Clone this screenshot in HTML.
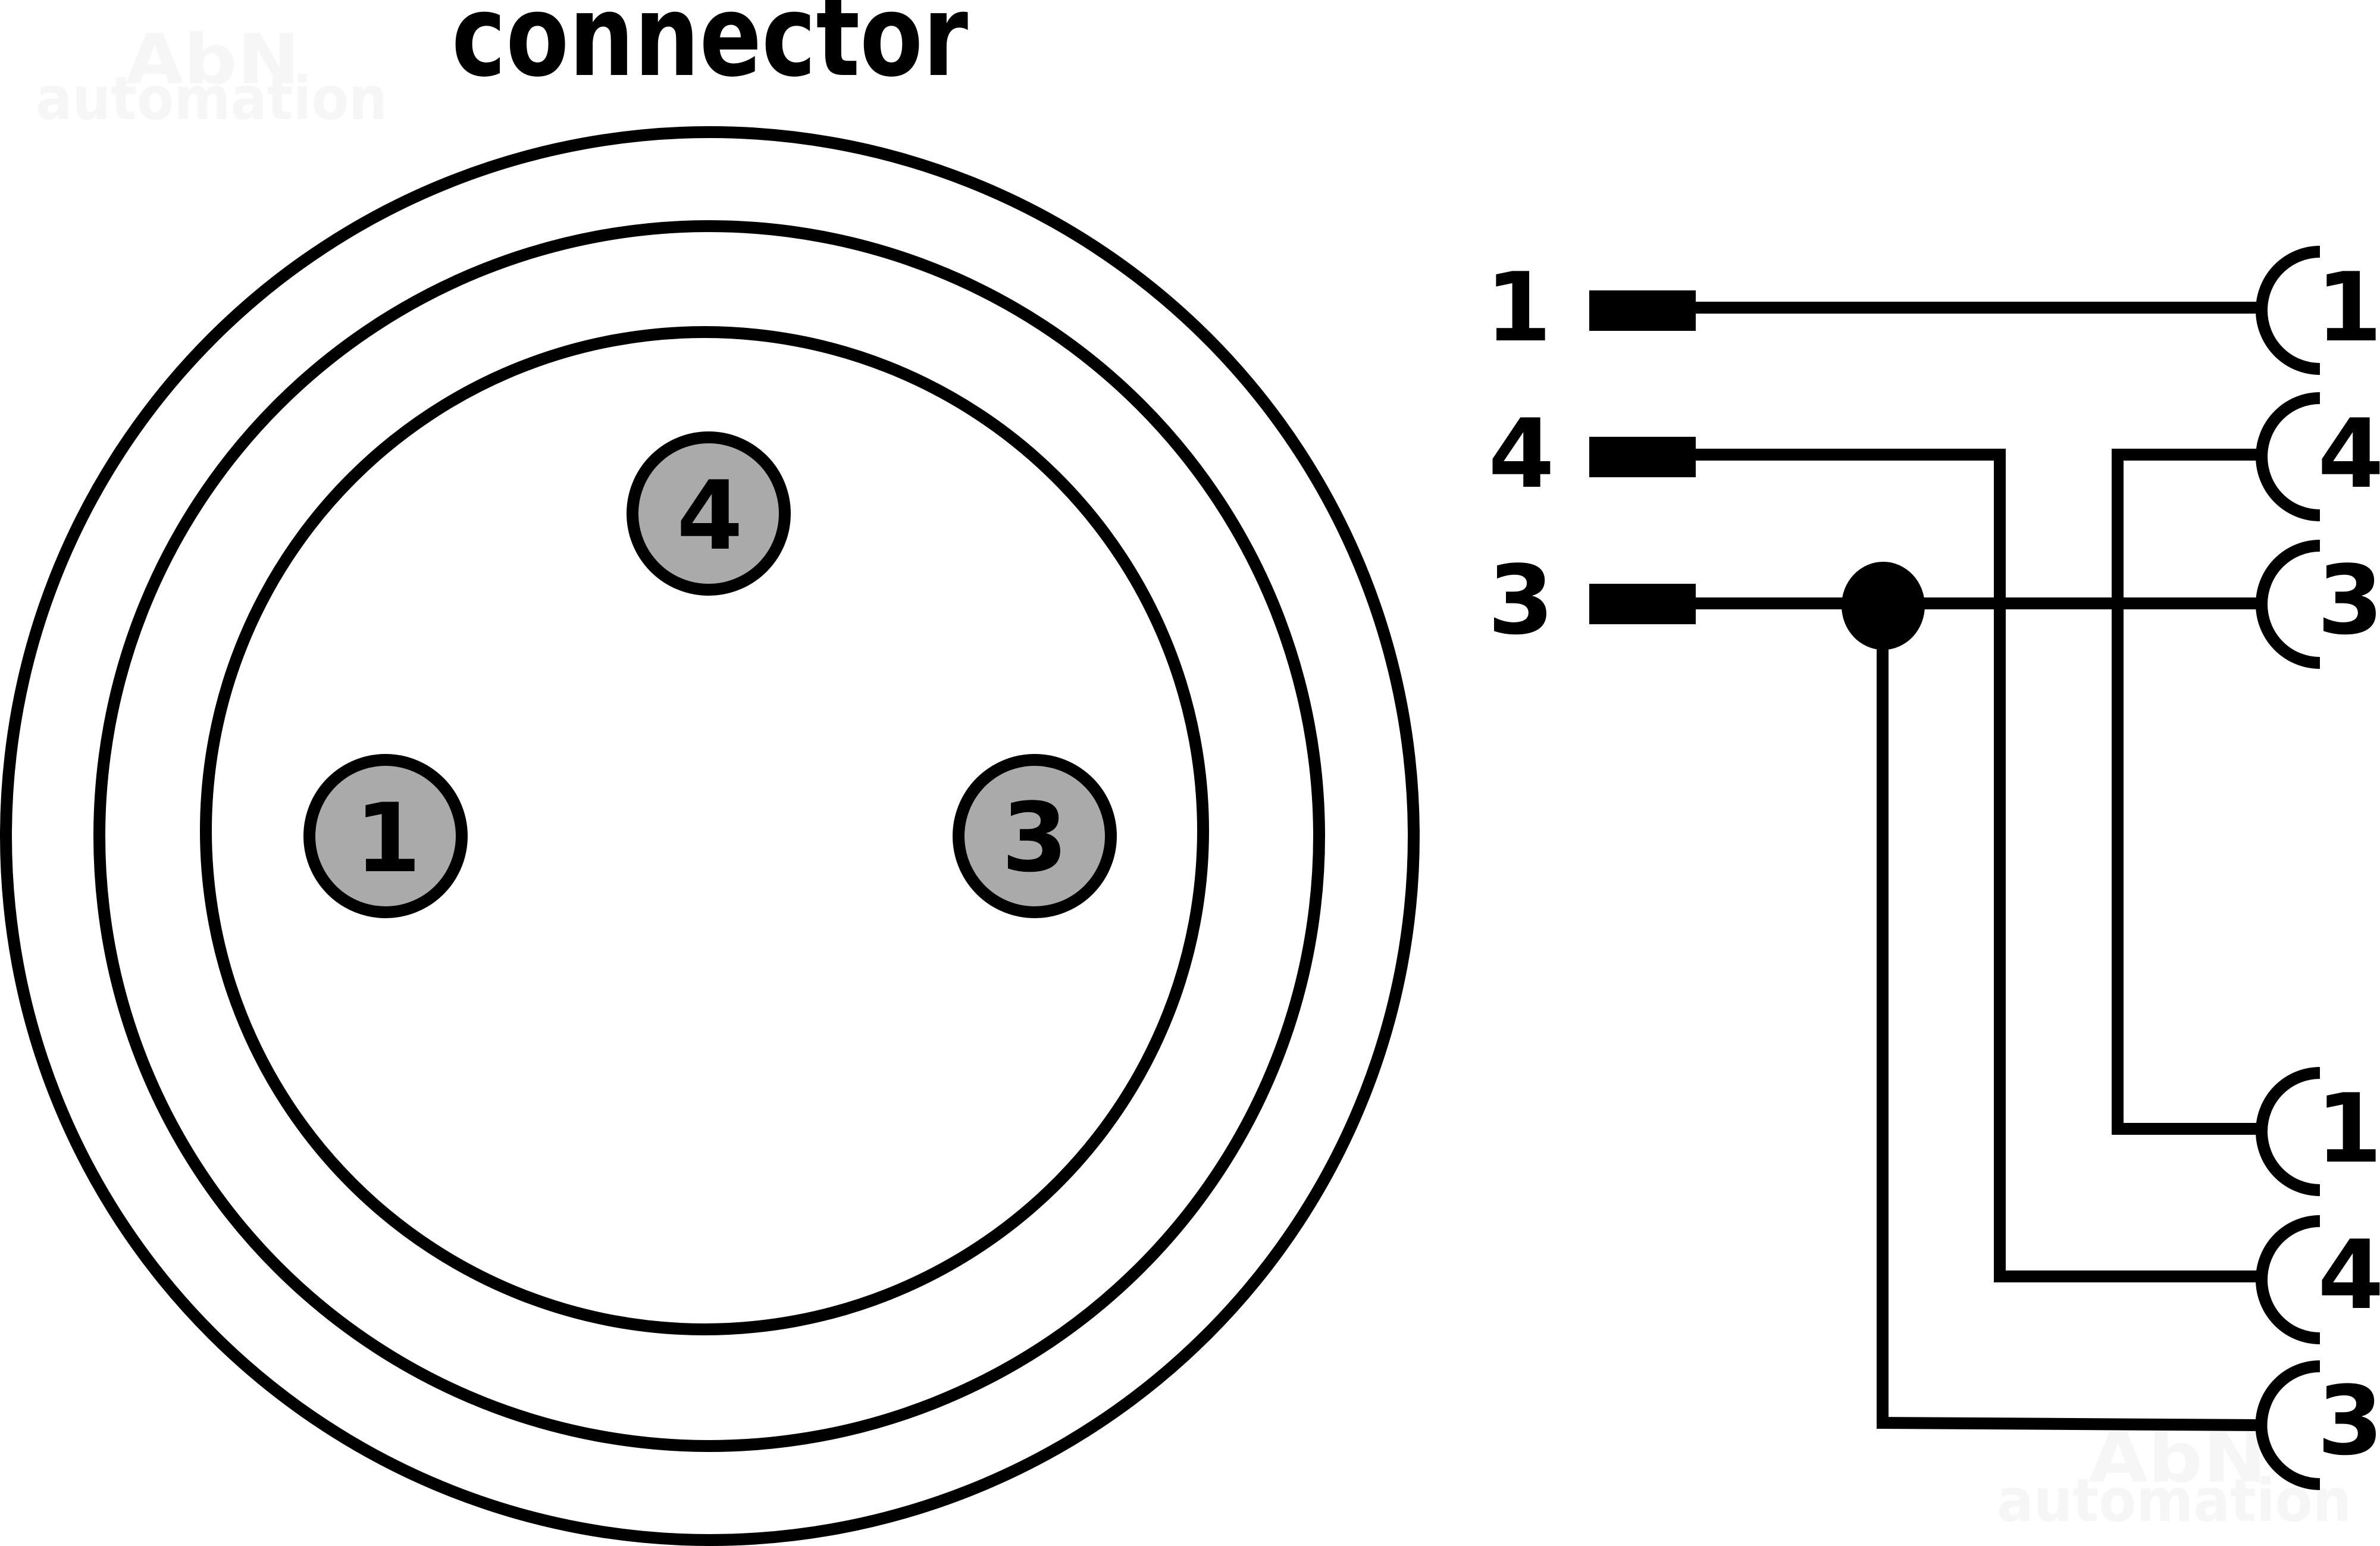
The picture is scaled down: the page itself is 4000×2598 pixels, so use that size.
<!DOCTYPE html>
<html>
<head>
<meta charset="utf-8">
<style>
html,body{margin:0;padding:0;background:#fff;}
svg{display:block;}
</style>
</head>
<body>
<svg xmlns="http://www.w3.org/2000/svg" width="4000" height="2598" viewBox="0 0 4000 2598">
  <rect x="0" y="0" width="4000" height="2598" fill="#fff"/>

  <!-- watermarks -->
  <g font-family="'DejaVu Sans', 'Liberation Sans', sans-serif" font-weight="bold" fill="#f6f6f6">
    <text x="211" y="140" font-size="116" textLength="293" lengthAdjust="spacingAndGlyphs">AbN</text>
    <text x="60" y="200" font-size="100" textLength="591" lengthAdjust="spacingAndGlyphs">automation</text>
    <text x="3510" y="2490" font-size="116" textLength="300" lengthAdjust="spacingAndGlyphs">AbN</text>
    <text x="3356" y="2556" font-size="100" textLength="596" lengthAdjust="spacingAndGlyphs">automation</text>
  </g>

  <!-- title -->
  <text x="759" y="126" font-family="'DejaVu Sans', 'Liberation Sans', sans-serif" font-weight="bold" font-size="190" textLength="868" lengthAdjust="spacingAndGlyphs" fill="#000">connector</text>

  <!-- connector rings -->
  <g fill="none" stroke="#000" stroke-width="20">
    <ellipse cx="1193" cy="1405" rx="1183" ry="1183"/>
    <ellipse cx="1192" cy="1405" rx="1025" ry="1025"/>
    <ellipse cx="1184" cy="1396" rx="838" ry="838"/>
  </g>

  <!-- pins -->
  <g fill="#aaaaaa" stroke="#000" stroke-width="20">
    <circle cx="1191" cy="863" r="128"/>
    <circle cx="648" cy="1405" r="128"/>
    <circle cx="1739" cy="1405" r="128"/>
  </g>
  <g font-family="'DejaVu Sans', 'Liberation Sans', sans-serif" font-weight="bold" font-size="160" fill="#000" text-anchor="middle">
    <text x="1193" y="922">4</text>
    <text x="652" y="1464">1</text>
    <text x="1739" y="1463">3</text>
  </g>

  <!-- left labels -->
  <g font-family="'DejaVu Sans', 'Liberation Sans', sans-serif" font-weight="bold" font-size="160" fill="#000" text-anchor="middle">
    <text x="2552" y="572">1</text>
    <text x="2557" y="818">4</text>
    <text x="2556" y="1064">3</text>
  </g>

  <!-- plugs -->
  <g fill="#000">
    <rect x="2671" y="488" width="179" height="68"/>
    <rect x="2671" y="734" width="179" height="68"/>
    <rect x="2671" y="981" width="179" height="68"/>
  </g>

  <!-- wires -->
  <g fill="none" stroke="#000" stroke-width="20" stroke-linejoin="miter">
    <path d="M2850 517 H3802"/>
    <path d="M2850 764 H3361 V2145 H3802"/>
    <path d="M3802 764 H3559 V1897 H3802"/>
    <path d="M2850 1014 H3802"/>
    <path d="M3164 1016 V2391 L3802 2395"/>
  </g>
  <ellipse cx="3165" cy="1018" rx="70" ry="74" fill="#000"/>

  <!-- sockets -->
  <g fill="none" stroke="#000" stroke-width="20">
    <path d="M3899 423 A98 98.5 0 0 0 3899 620"/>
    <path d="M3899 669 A98 98.5 0 0 0 3899 866"/>
    <path d="M3899 917 A98 98.5 0 0 0 3899 1114"/>
    <path d="M3899 1803 A98 98.5 0 0 0 3899 2000"/>
    <path d="M3899 2052 A98 98.5 0 0 0 3899 2249"/>
    <path d="M3899 2296 A98 98.5 0 0 0 3899 2494"/>
  </g>

  <!-- right labels -->
  <g font-family="'DejaVu Sans', 'Liberation Sans', sans-serif" font-weight="bold" font-size="160" fill="#000" text-anchor="middle">
    <text x="3948" y="572">1</text>
    <text x="3951" y="818">4</text>
    <text x="3950" y="1064">3</text>
    <text x="3948" y="1952">1</text>
    <text x="3951" y="2198">4</text>
    <text x="3950" y="2443">3</text>
  </g>
</svg>
</body>
</html>
